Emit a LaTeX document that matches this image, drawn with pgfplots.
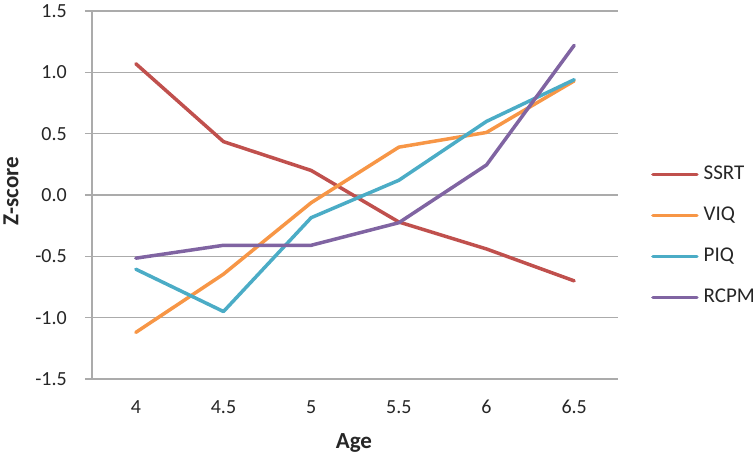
\documentclass[border=0pt]{standalone}
\usepackage{pgfplots}
\pgfplotsset{compat=1.18}
\usepackage{fontspec}
\setmainfont{Carlito}
\definecolor{cSSRT}{HTML}{C0504D}
\definecolor{cVIQ}{HTML}{F79646}
\definecolor{cPIQ}{HTML}{4BACC6}
\definecolor{cRCPM}{HTML}{8064A2}
\definecolor{gridc}{HTML}{ABABAB}
\begin{document}
\begin{tikzpicture}
\useasboundingbox (-92bp,-79bp) rectangle (664bp,379bp);
\begin{axis}[
  at={(0,0)}, anchor=south west,
  scale only axis, width=526bp, height=368bp,
  xmin=3.75, xmax=6.75, ymin=-1.5, ymax=1.5,
  xtick={4,4.5,5,5.5,6,6.5},
  xticklabels={4,4.5,5,5.5,6,6.5},
  ytick={-1.5,-1,-0.5,0,0.5,1,1.5},
  /pgf/number format/assume math mode=true,
  yticklabel style={/pgf/number format/fixed, /pgf/number format/fixed zerofill, /pgf/number format/precision=1},
  axis x line*=bottom, axis y line*=left,
  axis line style={-, color=gridc, line width=1.3bp},
  ymajorgrids, major grid style={color=gridc, line width=1.3bp},
  xtick style={draw=none},
  ytick style={color=gridc, line width=1.3bp},
  tick align=outside, major tick length=7bp,
  tick label style={font=\fontsize{20bp}{24bp}\selectfont, color=black!85},
  xticklabel style={anchor=north, inner sep=0pt, yshift=-14bp},
  yticklabel style={anchor=east, inner sep=0pt, xshift=-18bp},
  xlabel={Age}, ylabel={Z-score},
  every axis x label/.style={at={(axis description cs:0.498,-0.174)}, anchor=center,
    font=\fontsize{23bp}{27bp}\selectfont\bfseries, color=black!85},
  every axis y label/.style={at={(axis description cs:-0.154,0.511)}, rotate=90, anchor=center,
    font=\fontsize{23bp}{27bp}\selectfont\bfseries, color=black!85},
  every axis plot/.append style={line width=3.5bp, line join=round, line cap=round},
  legend image code/.code={\draw[#1] (0bp,0bp) -- (44bp,0bp);},
  legend style={at={(1.0627,0.388)}, anchor=west, draw=none, fill=none, inner sep=0pt,
    font=\fontsize{21bp}{25bp}\selectfont, text=black!85,
    nodes={inner sep=0pt, text height=14bp, text depth=4bp},
    row sep=23bp,
    /tikz/every odd column/.append style={column sep=5bp}},
  legend cell align=left,
  clip=false,
]
\addplot[cSSRT] coordinates {(4,1.07) (4.5,0.435) (5,0.20) (5.5,-0.22) (6,-0.44) (6.5,-0.70)};
\addlegendentry{SSRT}
\addplot[cVIQ] coordinates {(4,-1.12) (4.5,-0.645) (5,-0.063) (5.5,0.39) (6,0.51) (6.5,0.93)};
\addlegendentry{VIQ}
\addplot[cPIQ] coordinates {(4,-0.605) (4.5,-0.95) (5,-0.185) (5.5,0.12) (6,0.60) (6.5,0.94)};
\addlegendentry{PIQ}
\addplot[cRCPM] coordinates {(4,-0.515) (4.5,-0.41) (5,-0.41) (5.5,-0.226) (6,0.245) (6.5,1.22)};
\addlegendentry{RCPM}
\end{axis}
\end{tikzpicture}
\end{document}
